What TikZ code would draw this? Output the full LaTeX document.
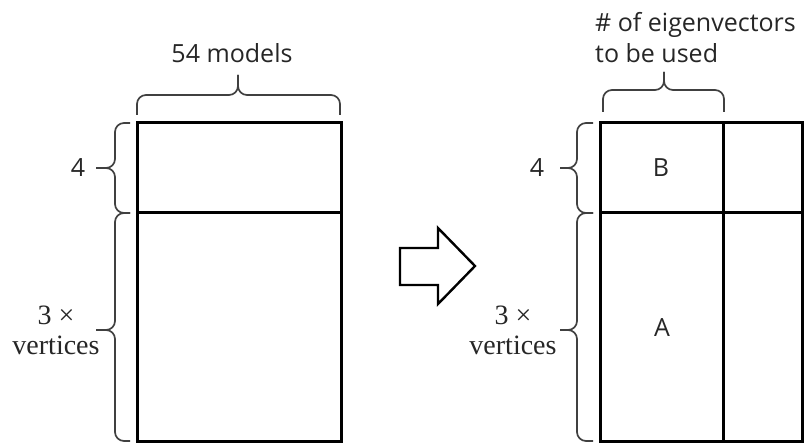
\documentclass[tikz,border=0pt]{standalone}
\usepackage{fontspec}
\setmainfont{Open Sans}
\newfontfamily\mathlabelfont{Liberation Serif}
\begin{document}
\begin{tikzpicture}[x=1pt,y=-1pt,
  matrixline/.style={draw=black,line width=3pt},
  bracelines/.style={draw=black!75,line width=1.7pt,rounded corners=9pt},
  arrowshape/.style={draw=black,line width=2.4pt,line join=miter,fill=white},
  lbl/.style={font=\fontsize{25}{31}\selectfont,inner sep=0pt,text=black!85},
  dimlbl/.style={font=\mathlabelfont\fontsize{28}{30}\selectfont,inner sep=0pt,align=center,text=black!85}]
\useasboundingbox (0,0) rectangle (806,446);

% corners of the two matrices
\coordinate (L-nw) at (137,123);
\coordinate (L-se) at (341,441);
\coordinate (L-w) at (137,213);
\coordinate (L-e) at (341,213);
\coordinate (R-nw) at (600,123);
\coordinate (R-se) at (802,441);
\coordinate (R-w) at (600,213);
\coordinate (R-e) at (802,213);
\coordinate (R-n) at (723,123);
\coordinate (R-s) at (723,441);

% left matrix
\draw[matrixline] (L-nw) rectangle (L-se);
\draw[matrixline] (L-w) -- (L-e);

% right matrix, split into blocks
\draw[matrixline] (R-nw) rectangle (R-se);
\draw[matrixline] (R-w) -- (R-e);
\draw[matrixline] (R-n) -- (R-s);
\node[lbl,anchor=base] (B) at (661,177) {B};
\node[lbl,anchor=base] (A) at (662,337) {A};

% braces of the left matrix
\draw[bracelines] (137,115) |- (238,95) -- (238,75);
\draw[bracelines] (340,115) |- (238,95) -- (238,75);
\node[lbl,anchor=base] (models) at (232,63) {54 models};

\draw[bracelines] (130,123) -| (115,168) -- (96,168);
\draw[bracelines] (130,213) -| (115,168) -- (96,168);
\node[lbl,anchor=base] (four-L) at (78,177) {4};

\draw[bracelines] (130,213) -| (115,330) -- (96,330);
\draw[bracelines] (130,441) -| (115,330) -- (96,330);
\node[dimlbl,anchor=base] (dim-L) at (56,355) {3 ×\\vertices};

% transformation arrow
\draw[arrowshape] (400,248) -- (438,248) -- (438,228) -- (475,266)
  -- (438,304) -- (438,285) -- (400,285) -- cycle;

% braces of the right matrix
\draw[bracelines] (603,112) |- (664,90) -- (664,72);
\draw[bracelines] (724,112) |- (664,90) -- (664,72);
\node[lbl,anchor=base west,align=left] (eig) at (595,63) {\# of eigenvectors\\to be used};

\draw[bracelines] (593,123) -| (577,168) -- (560,168);
\draw[bracelines] (593,213) -| (577,168) -- (560,168);
\node[lbl,anchor=base] (four-R) at (537,177) {4};

\draw[bracelines] (593,213) -| (577,330) -- (560,330);
\draw[bracelines] (593,441) -| (577,330) -- (560,330);
\node[dimlbl,anchor=base] (dim-R) at (513,355) {3 ×\\vertices};
\end{tikzpicture}
\end{document}
